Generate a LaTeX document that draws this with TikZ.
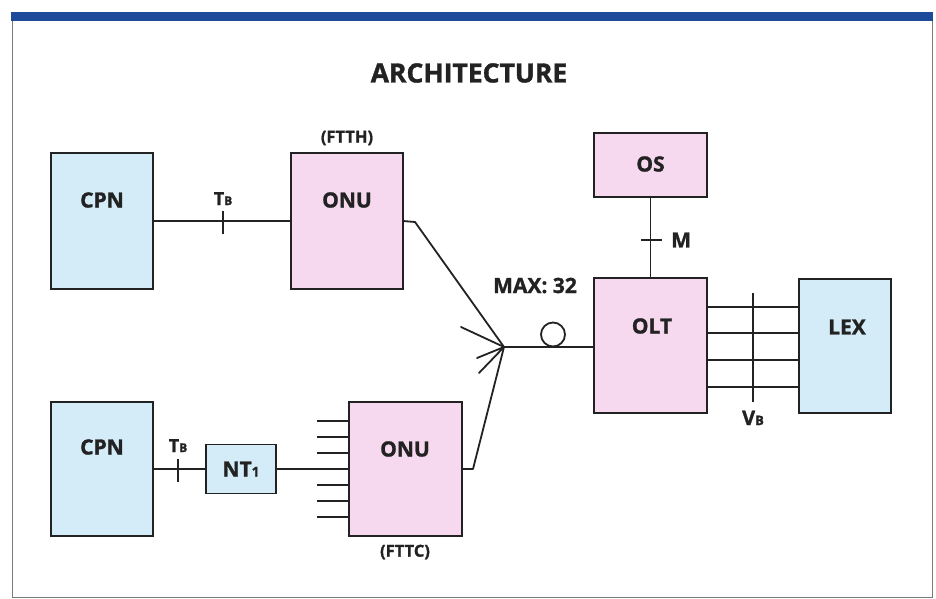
\documentclass[tikz,border=0pt]{standalone}
\usepackage{fontspec}
\setmainfont{Open Sans}[BoldFeatures={FakeBold=1.3}]
\definecolor{cpnblue}{HTML}{D3ECF8}
\definecolor{onupink}{HTML}{F6D9EE}
\definecolor{barblue}{HTML}{1E4A9C}
\definecolor{ink}{HTML}{222222}
\definecolor{framegray}{HTML}{7A7A7A}
\begin{document}
\begin{tikzpicture}[x=1pt,y=-1pt,
  box/.style={draw=ink,line width=1.8pt,inner sep=0pt,outer sep=0pt},
  bluebox/.style={box,fill=cpnblue},
  pinkbox/.style={box,fill=onupink},
  lbl/.style={text=ink,font=\fontsize{21}{21}\selectfont\bfseries,inner sep=0pt},
  small/.style={text=ink,font=\fontsize{16.5}{16.5}\selectfont\bfseries,inner sep=0pt},
  wire/.style={draw=ink,line width=1.8pt},
  tick/.style={draw=ink,line width=1.8pt}]
\useasboundingbox (0,0) rectangle (936,599);
% frame
\draw[framegray,line width=1pt] (12,18) -- (12,597) -- (932,597) -- (932,18);
\fill[barblue] (11,12) rectangle (933,21);
% title
\node[text=ink,font=\fontsize{26.5}{26.5}\selectfont\bfseries,inner sep=0pt] (title) at (469,73) {ARCHITECTURE};
% boxes
\node[bluebox,minimum width=102pt,minimum height=136pt] (cpn1) at (102,221) {};
\node[lbl] (cpn1t) at (102,200) {CPN};
\node[pinkbox,minimum width=112pt,minimum height=136pt] (onu1) at (347,221) {};
\node[lbl] (onu1t) at (347,200) {ONU};
\node[small] (ftth) at (347,138) {(FTTH)};
\node[bluebox,minimum width=102pt,minimum height=134pt] (cpn2) at (102,469) {};
\node[lbl] (cpn2t) at (102,447) {CPN};
\node[bluebox,minimum width=70pt,minimum height=49pt] (nt1) at (241,469) {};
\node[lbl] (nt1t) at (241,469) {NT{\fontsize{13.5}{13.5}\selectfont 1}};
\node[pinkbox,minimum width=113pt,minimum height=134pt] (onu2) at (405.5,469) {};
\node[lbl] (onu2t) at (405,449) {ONU};
\node[small] (fttc) at (405,552) {(FTTC)};
\node[pinkbox,minimum width=113pt,minimum height=64pt] (os) at (650.5,165) {};
\node[lbl] (ost) at (650.5,164) {OS};
\node[pinkbox,minimum width=113pt,minimum height=135pt] (olt) at (650.5,345.5) {};
\node[lbl] (oltt) at (652,326) {OLT};
\node[bluebox,minimum width=92pt,minimum height=134pt] (lex) at (845,346) {};
\node[lbl] (lext) at (847,327) {LEX};
% upper row
\draw[wire] (cpn1.east) -- (onu1.west);
\draw[tick] (223,211) -- (223,234);
\node[text=ink,font=\fontsize{18}{18}\selectfont\bfseries,inner sep=0pt,anchor=base] (tb1t) at (223,205) {T{\fontsize{12}{12}\selectfont B}};
\coordinate (split) at (504,347);
\coordinate (s1) at (415,222);
\draw[wire,line join=round] (onu1.east) -- (s1) -- (split);
% splitter spokes
\coordinate (k1) at (461,327);
\coordinate (k2) at (477,358);
\coordinate (k3) at (479,373);
\draw[wire,line cap=round] (split) -- (k1) (split) -- (k2) (split) -- (k3);
% lower row
\draw[wire] (cpn2.east) -- (nt1.west);
\draw[tick] (178,459) -- (178,482);
\node[text=ink,font=\fontsize{18}{18}\selectfont\bfseries,inner sep=0pt,anchor=base] (tb2t) at (178,452) {T{\fontsize{12}{12}\selectfont B}};
\draw[wire] (nt1.east) -- (onu2.west);
\foreach \yy in {421,437,453,485,501,517}{
  \coordinate (st\yy) at (317,\yy);
  \draw[wire] (st\yy) -- (onu2.west |- st\yy);
}
\coordinate (s2) at (473,469);
\draw[wire,line join=round] (onu2.east) -- (s2) -- (split);
% splitter to OLT
\draw[wire] (split) -- (olt.west |- split);
\node[draw=ink,line width=1.8pt,circle,minimum size=24pt,inner sep=0pt] (att) at (553,334.5) {};
\node[lbl,anchor=base] (max) at (535,293) {MAX: 32};
% OS to OLT
\draw[wire] (os.south) -- (olt.north);
\draw[tick] (641,240) -- (662,240);
\node[lbl,anchor=west] (m) at (671,240) {M};
% OLT to LEX
\foreach \yy in {307,333,360,387}{
  \draw[wire] (olt.east |- 0,\yy) -- (lex.west |- 0,\yy);
}
\draw[tick] (753,293) -- (753,402);
\node[text=ink,font=\fontsize{20}{20}\selectfont\bfseries,inner sep=0pt,anchor=base] (vb) at (753,425) {V{\fontsize{13}{13}\selectfont B}};
\end{tikzpicture}
\end{document}
